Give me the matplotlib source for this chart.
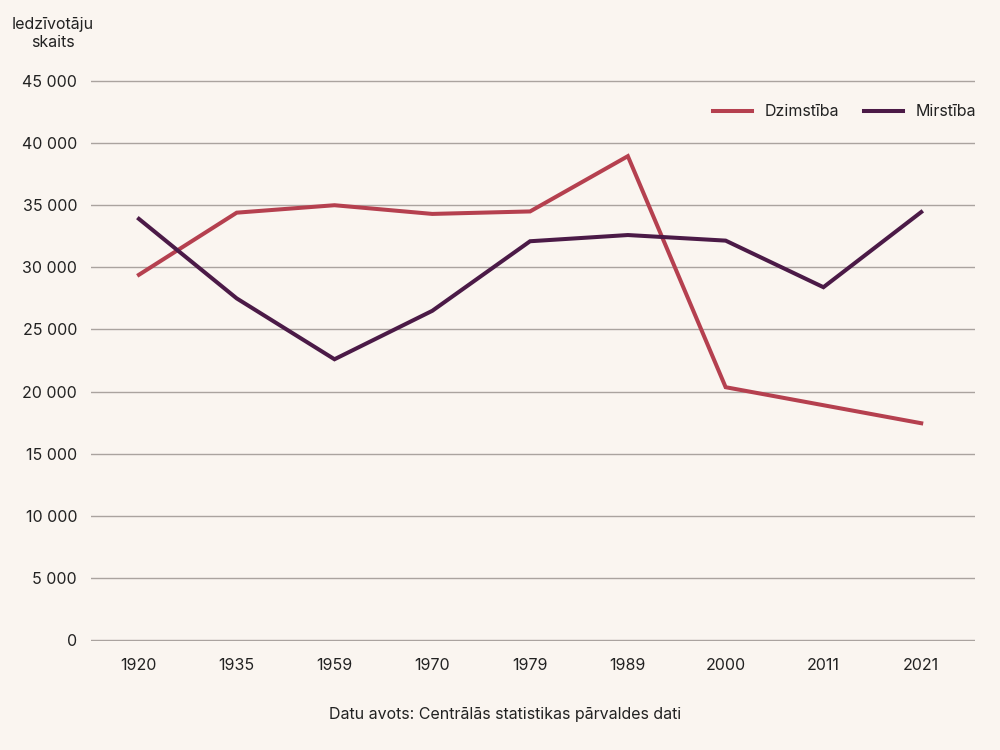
import matplotlib
matplotlib.use("Agg")
import matplotlib.pyplot as plt
from matplotlib.ticker import FuncFormatter

years = ["1920", "1935", "1959", "1970", "1979", "1989", "2000", "2011", "2021"]
dzimstiba = [29400, 34400, 35000, 34300, 34500, 38950, 20350, 18900, 17450]
mirstiba = [33900, 27500, 22600, 26500, 32100, 32600, 32150, 28400, 34450]
yticks = [0, 5000, 10000, 15000, 20000, 25000, 30000, 35000, 40000, 45000]

BG = "#faf5f0"
RED = "#b5404f"
PURPLE = "#4b1a47"
TXT = "#222222"

plt.rcParams['font.family'] = ['Inter', 'DejaVu Sans']
FS = 11.5

fig = plt.figure(figsize=(10, 7.5), dpi=100, facecolor=BG)
# 0 at y=640px, 45000 at y=81px; small margin so edge gridlines are not clipped
pad = 100
ppu = 559 / 45000
bot_px = 640 + pad * ppu
top_px = 81 - pad * ppu
ax = fig.add_axes([0.091, 1 - bot_px / 750, 0.884, (bot_px - top_px) / 750], facecolor=BG)

x = list(range(len(years)))
ax.plot(x, dzimstiba, color=RED, lw=2.9, label="Dzimstība", solid_joinstyle="miter", zorder=3)
ax.plot(x, mirstiba, color=PURPLE, lw=2.9, label="Mirstība", solid_joinstyle="miter", zorder=3)

ax.set_xlim(-0.49, 8.55)
ax.set_ylim(-pad, 45000 + pad)
ax.set_xticks(x)
ax.set_xticklabels(years)
ax.set_yticks(yticks)
ax.yaxis.set_major_formatter(FuncFormatter(lambda v, p: f"{int(v):,}".replace(",", " ")))
ax.tick_params(axis='both', length=0, labelsize=FS, colors=TXT)
ax.tick_params(axis='y', pad=10)
ax.tick_params(axis='x', pad=12)
for s in ax.spines.values():
    s.set_visible(False)
ax.grid(axis='y', color="#aaa39f", lw=1.0)
ax.set_axisbelow(True)

fig.text(0.053, 0.955, "Iedzīvotāju\nskaits", ha='center', va='center', fontsize=FS, color=TXT, linespacing=1.25)
fig.text(0.505, 0.047, "Datu avots: Centrālās statistikas pārvaldes dati", ha='center', va='center', fontsize=FS, color=TXT)

leg = ax.legend(loc='center right', bbox_to_anchor=(0.976, 1 - 112 / 750), bbox_transform=fig.transFigure,
                ncol=2, frameon=False, borderpad=0, borderaxespad=0,
                fontsize=FS, handlelength=2.4, columnspacing=1.6, handletextpad=0.8)
for t in leg.get_texts():
    t.set_color(TXT)

fig.savefig("out.png", dpi=100, facecolor=BG)
